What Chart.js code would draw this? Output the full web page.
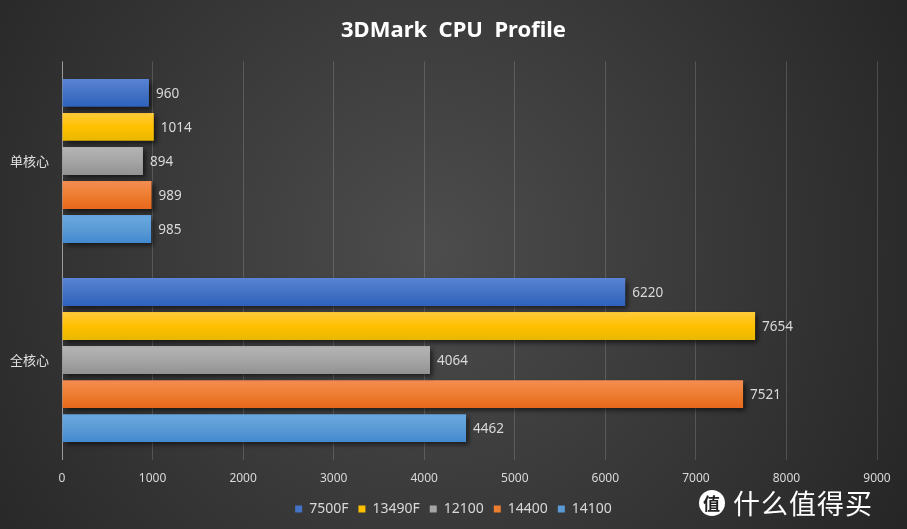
<!DOCTYPE html>
<html>
<head>
<meta charset="utf-8">
<script src="https://cdn.jsdelivr.net/npm/chart.js@4"></script>
<style>
	html, body {margin: 0; padding: 0; background: #2a2a2a;}
	#wrap {position: relative; width: 907px; height: 529px;}
	#mark {position: absolute; left: 699px; top: 485px; display: flex; align-items: center; color: #fff;
		font-family: "Noto Sans CJK SC", sans-serif; font-size: 27px; line-height: 36px; letter-spacing: 1px;}
	#mark .dot {width: 26px; height: 26px; border-radius: 50%; background: #fff; color: #222; font-size: 17px;
		line-height: 26px; font-weight: bold; display: flex; align-items: center; justify-content: center; margin-right: 8px;}
</style>
</head>
<body>
<div id="wrap">
	<canvas id="cpuChart" width="907" height="529"></canvas>
	<div id="mark"><span class="dot">值</span>什么值得买</div>
</div>
<script>
const categories = ['单核心', '全核心'];
const seriesNames = ['7500F', '13490F', '12100', '14400', '14100'];
const scores7500F = [960, 6220];
const scores13490F = [1014, 7654];
const scores12100 = [894, 4064];
const scores14400 = [989, 7521];
const scores14100 = [985, 4462];
const xTicks = [0, 1000, 2000, 3000, 4000, 5000, 6000, 7000, 8000, 9000];

const seriesValues = [scores7500F, scores13490F, scores12100, scores14400, scores14100];
// top / bottom colours of each bar's gradient
const shades = [
	['#5a84d6', '#2e62bd'],
	['#ffcb3c', '#e8b800'],
	['#b5b5b5', '#929292'],
	['#f58d52', '#e8681c'],
	['#6aa9e2', '#4289d0']
];
const legendColors = ['#4472c4', '#ffc000', '#a5a5a5', '#ed7d31', '#5b9bd5'];

const bgPlugin = {
	id: 'bg',
	beforeDraw(chart) {
		const {ctx, width, height} = chart;
		const g = ctx.createRadialGradient(430, 250, 10, 430, 250, 560);
		g.addColorStop(0, '#4c4c4c');
		g.addColorStop(1, '#252525');
		ctx.save();
		ctx.fillStyle = g;
		ctx.fillRect(0, 0, width, height);
		ctx.restore();
	}
};

const shadowPlugin = {
	id: 'barShadow',
	beforeDatasetsDraw(chart) {
		const ctx = chart.ctx;
		ctx.save();
		ctx.shadowColor = 'rgba(0,0,0,0.6)';
		ctx.shadowBlur = 5;
		ctx.shadowOffsetX = 3;
		ctx.shadowOffsetY = 3;
	},
	afterDatasetsDraw(chart) {
		chart.ctx.restore();
		const ctx = chart.ctx;
		ctx.save();
		ctx.font = '13.5px "Noto Sans", "Open Sans", sans-serif';
		ctx.fillStyle = '#d9d9d9';
		ctx.textBaseline = 'middle';
		chart.data.datasets.forEach((ds, di) => {
			chart.getDatasetMeta(di).data.forEach((el, i) => {
				ctx.fillText(ds.data[i], el.x + 7, el.y + 1);
			});
		});
		ctx.restore();
	}
};

const cpuChart = new Chart(document.getElementById('cpuChart'), {
	type: 'bar',
	data: {
		labels: categories,
		datasets: seriesNames.map((name, i) => ({
			label: name,
			data: seriesValues[i],
			backgroundColor: (c) => {
				const el = c.element;
				if (!el || el.y == null || !el.height) return legendColors[i];
				const g = c.chart.ctx.createLinearGradient(0, el.y - el.height / 2, 0, el.y + el.height / 2);
				g.addColorStop(0, shades[i][0]);
				g.addColorStop(0.5, legendColors[i]);
				g.addColorStop(1, shades[i][1]);
				return g;
			},
			borderWidth: 0,
			categoryPercentage: 0.855,
			barPercentage: 0.82
		}))
	},
	options: {
		indexAxis: 'y',
		responsive: false,
		animation: false,
		layout: {padding: {left: 10, right: 10, top: 0, bottom: 3}},
		scales: {
			x: {
				min: 0, max: 9000,
				afterBuildTicks: (axis) => { axis.ticks = xTicks.map(v => ({value: v})); },
				afterFit: (axis) => { axis.height -= 6; },
				grid: {color: (c) => c.index === 0 ? '#9a9a9a' : 'rgba(255,255,255,0.16)', drawTicks: false},
				border: {display: false},
				ticks: {
					color: '#d9d9d9', padding: 12,
					font: {size: 12, family: '"Noto Sans", sans-serif'},
					callback: (v) => String(v)
				}
			},
			y: {
				afterFit: (axis) => { axis.width = 52; },
				grid: {display: false, drawTicks: false},
				border: {display: false},
				ticks: {
					color: '#e0e0e0', padding: 14, crossAlign: 'far',
					font: {size: 13, family: '"Noto Sans CJK SC", sans-serif'}
				}
			},
			// empty right-hand axis, only to keep the plot's right margin
			yRight: {
				type: 'category',
				axis: 'y',
				position: 'right',
				afterFit: (axis) => { axis.width = 20; },
				grid: {display: false, drawTicks: false},
				border: {display: false},
				ticks: {display: false}
			}
		},
		plugins: {
			title: {
				display: true,
				text: '3DMark  CPU  Profile',
				color: '#ffffff',
				font: {size: 22, weight: 'bold', family: '"Noto Sans", "Open Sans", sans-serif'},
				padding: {top: 18, bottom: 17}
			},
			legend: {
				position: 'bottom',
				labels: {
					color: '#d9d9d9',
					boxWidth: 7, boxHeight: 7,
					padding: 10,
					font: {size: 14, family: '"Noto Sans", sans-serif'},
					generateLabels: (chart) => chart.data.datasets.map((ds, i) => ({
						text: ds.label, fillStyle: legendColors[i], strokeStyle: legendColors[i],
						lineWidth: 0, fontColor: '#d9d9d9', datasetIndex: i
					}))
				}
			},
			tooltip: {enabled: false}
		}
	},
	plugins: [bgPlugin, shadowPlugin]
});
cpuChart.update('none');
</script>
</body>
</html>
